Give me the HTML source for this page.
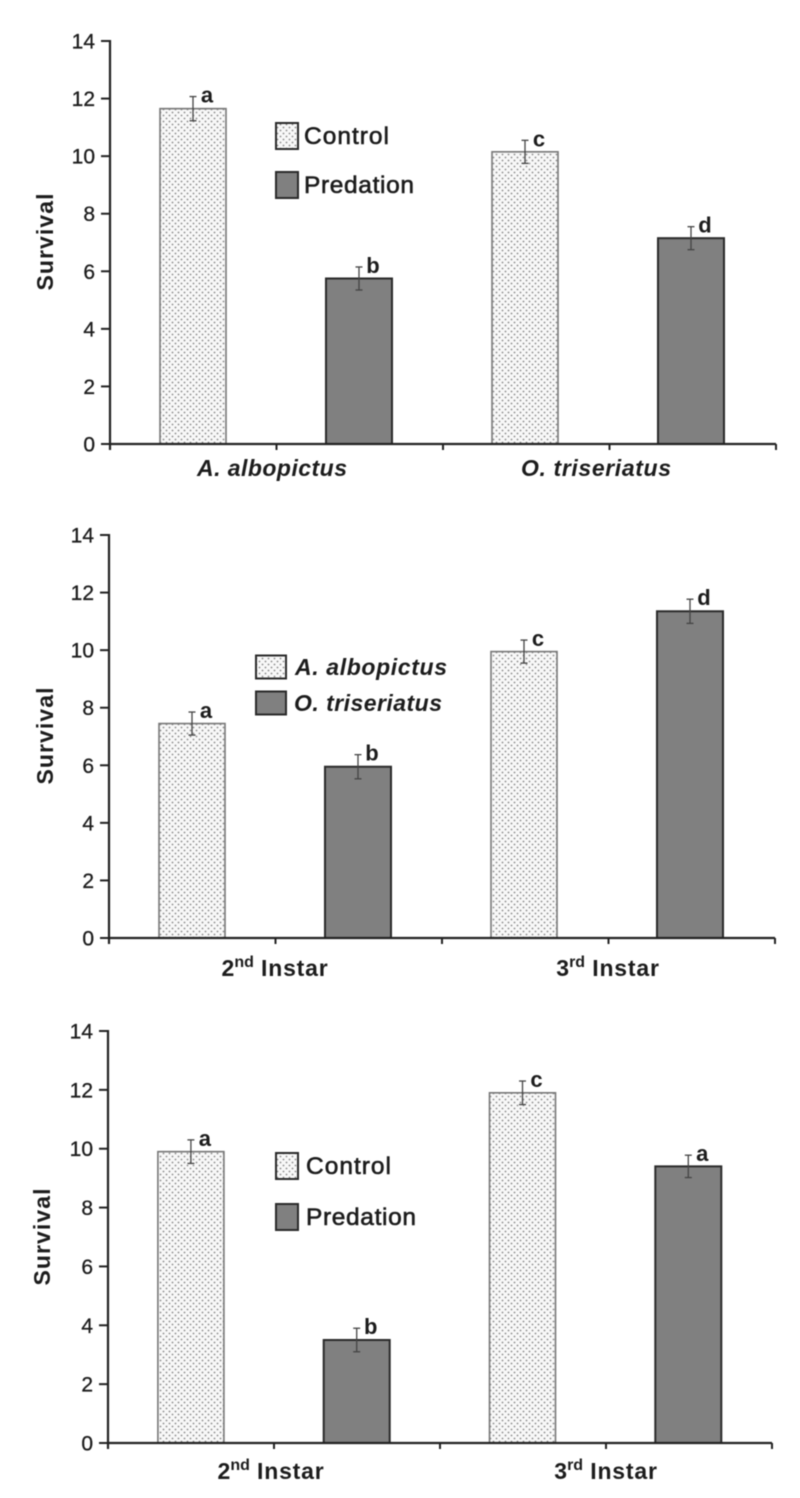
<!DOCTYPE html>
<html lang="en">
<head>
<meta charset="utf-8">
<title>Survival charts</title>
<style>
html,body{margin:0;padding:0;background:#fff;}
#chart{display:block;width:800px;height:1498px;filter:blur(0.5px);}
text{font-family:"Liberation Sans",sans-serif;fill:#1c1c1c;}
</style>
</head>
<body>
<svg id="chart" xmlns="http://www.w3.org/2000/svg" width="800" height="1498" viewBox="0 0 800 1498">
<defs>
<pattern id="dots" width="6" height="6" patternUnits="userSpaceOnUse">
<rect width="6" height="6" fill="#f8f8f8"/>
<circle cx="1.5" cy="1.5" r="0.9" fill="#888"/>
<circle cx="4.5" cy="4.5" r="0.9" fill="#888"/>
</pattern>
</defs>
</svg>
<script>
const yTicks = [0, 2, 4, 6, 8, 10, 12, 14];
const yTitle = 'Survival';

const panel1Values = [11.65, 5.75, 10.15, 7.15];
const panel1Errors = [0.42, 0.4, 0.4, 0.4];
const panel1Letters = ['a', 'b', 'c', 'd'];
const panel1Groups = ['A. albopictus', 'O. triseriatus'];
const panel1Legend = ['Control', 'Predation'];

const panel2Values = [7.45, 5.95, 9.95, 11.35];
const panel2Errors = [0.4, 0.42, 0.4, 0.42];
const panel2Letters = ['a', 'b', 'c', 'd'];
const panel2Groups = ['2nd Instar', '3rd Instar'];
const panel2Legend = ['A. albopictus', 'O. triseriatus'];

const panel3Values = [9.9, 3.5, 11.9, 9.4];
const panel3Errors = [0.4, 0.4, 0.4, 0.38];
const panel3Letters = ['a', 'b', 'c', 'a'];
const panel3Groups = ['2nd Instar', '3rd Instar'];
const panel3Legend = ['Control', 'Predation'];

const NS = 'http://www.w3.org/2000/svg';
const root = document.getElementById('chart');

function make(tag, attrs, parent) {
  const el = document.createElementNS(NS, tag);
  for (const k in attrs) el.setAttribute(k, attrs[k]);
  parent.appendChild(el);
  return el;
}

function drawPanel(p) {
  const g = make('g', {}, root);
  
  

  const yScale = v => p.y0 - (v / 14) * (p.y0 - p.y14);
  const xScale = i => p.x0 + p.band * (i + 0.5);

  // bars
  p.values.forEach((v, i) => {
    const control = i % 2 === 0;
    const bar = make('rect', {
      x: xScale(i) - p.barW / 2, y: yScale(v), width: p.barW, height: p.y0 - yScale(v),
      fill: control ? 'url(#dots)' : '#808080',
      stroke: control ? '#777' : '#2a2a2a',
      'stroke-width': control ? 1.6 : 2
    }, g);
    
    

    const errColor = '#444';
    const cx = xScale(i);
    const top = yScale(v + p.errors[i]);
    const bot = yScale(v - p.errors[i]);
    const stem = make('line', {x1: cx, x2: cx, y1: top, y2: bot, stroke: errColor, 'stroke-width': 1.3}, g);
    
    
    const capTop = make('line', {x1: cx - 3.5, x2: cx + 3.5, y1: top, y2: top, stroke: errColor, 'stroke-width': 1.3}, g);
    
    
    const capBot = make('line', {x1: cx - 3.5, x2: cx + 3.5, y1: bot, y2: bot, stroke: errColor, 'stroke-width': 1.3}, g);
    
    

    const letter = make('text', {x: cx + 14, y: top + 6, 'text-anchor': 'middle', 'font-size': 22, 'font-weight': 'bold'}, g);
    letter.textContent = p.letters[i];
    
    
  });

  // y axis
  const yAxis = make('line', {x1: p.x0, x2: p.x0, y1: p.y14 - 1, y2: p.y0 + 6, stroke: '#222', 'stroke-width': 2.2}, g);
  
  
  yTicks.forEach(t => {
    const tick = make('line', {x1: p.x0 - 9, x2: p.x0, y1: yScale(t), y2: yScale(t), stroke: '#222', 'stroke-width': 2}, g);
    
    
    const lab = make('text', {x: p.x0 - 15, y: yScale(t) + 7.5, 'text-anchor': 'end', 'font-size': 21, stroke: '#1c1c1c', 'stroke-width': 0.3}, g);
    lab.textContent = t;
    
    
  });

  // x axis
  const xAxis = make('line', {x1: p.x0, x2: p.x1, y1: p.y0, y2: p.y0, stroke: '#222', 'stroke-width': 2.2}, g);
  
  
  for (let i = 0; i <= p.values.length; i++) {
    const tx = p.x0 + (p.x1 - p.x0) * i / p.values.length;
    const tick = make('line', {x1: tx, x2: tx, y1: p.y0, y2: p.y0 + 6, stroke: '#222', 'stroke-width': 2}, g);
    
    
  }

  // y title
  const title = make('text', {
    x: 0, y: 0, transform: 'translate(' + p.titleX + ',' + p.titleY + ') rotate(-90)',
    'text-anchor': 'middle', 'font-size': 23, 'font-weight': 'bold',
    textLength: 97, lengthAdjust: 'spacing'
  }, g);
  title.textContent = yTitle;
  
  

  // group labels
  p.groups.forEach((label, i) => {
    const t = make('text', {
      x: p.groupX[i], y: p.y0 + p.groupDy, 'text-anchor': 'middle', 'font-size': 23, 'font-weight': 'bold'
    }, g);
    
    
    if (p.italicGroups) {
      t.setAttribute('font-style', 'italic');
      t.setAttribute('textLength', 150);
      t.textContent = label;
    } else {
      const parts = label.match(/^(\d)(\w+)( .*)$/);
      const a = make('tspan', {}, t);
      a.textContent = parts[1];
      const b = make('tspan', {dy: -9, 'font-size': 16}, t);
      b.textContent = parts[2];
      const c = make('tspan', {dy: 9, 'letter-spacing': 0.8}, t);
      c.textContent = parts[3];
    }
  });

  // legend
  p.legend.forEach((label, i) => {
    const ly = p.legendY[i];
    const sw = make('rect', {
      x: p.legendX, y: ly - p.legendH / 2, width: p.legendW, height: p.legendH,
      fill: i === 0 ? 'url(#dots)' : '#808080', stroke: '#2a2a2a', 'stroke-width': 2
    }, g);
    
    
    const t = make('text', {
      x: p.legendTextX[i], y: ly + 8, 'font-size': p.legendItalic ? 23 : 24.5,
      stroke: '#1c1c1c', 'stroke-width': p.legendItalic ? 0 : 0.6,
      'font-weight': p.legendItalic ? 'bold' : 'normal',
      'font-style': p.legendItalic ? 'italic' : 'normal',
      textLength: p.legendLen[i]
    }, g);
    t.textContent = label;
    
    
  });
}

drawPanel({
  name: 'panel-species', values: panel1Values, errors: panel1Errors, letters: panel1Letters,
  groups: panel1Groups, legend: panel1Legend, italicGroups: true, groupDy: 32,
  x0: 110, x1: 776, band: 166, y0: 444, y14: 41, barW: 66,
  titleX: 53, titleY: 242, groupX: [272, 596],
  legendX: 276, legendW: 22, legendH: 26, legendY: [136, 185],
  legendTextX: [304, 304], legendLen: [85, 110]
});
drawPanel({
  name: 'panel-instar-species', values: panel2Values, errors: panel2Errors, letters: panel2Letters,
  groups: panel2Groups, legend: panel2Legend, italicGroups: false, legendItalic: true, groupDy: 38,
  x0: 109, x1: 775, band: 166, y0: 938, y14: 535, barW: 66,
  titleX: 53, titleY: 736, groupX: [275, 608],
  legendX: 256, legendW: 30, legendH: 23, legendY: [667, 703],
  legendTextX: [295, 294], legendLen: [152, 148]
});
drawPanel({
  name: 'panel-instar-predation', values: panel3Values, errors: panel3Errors, letters: panel3Letters,
  groups: panel3Groups, legend: panel3Legend, italicGroups: false, groupDy: 36,
  x0: 108, x1: 772, band: 165.8, y0: 1443, y14: 1031, barW: 66,
  titleX: 50, titleY: 1237, groupX: [271, 606],
  legendX: 276, legendW: 22, legendH: 26, legendY: [1166, 1217],
  legendTextX: [306, 306], legendLen: [85, 110]
});
</script>
</body>
</html>
